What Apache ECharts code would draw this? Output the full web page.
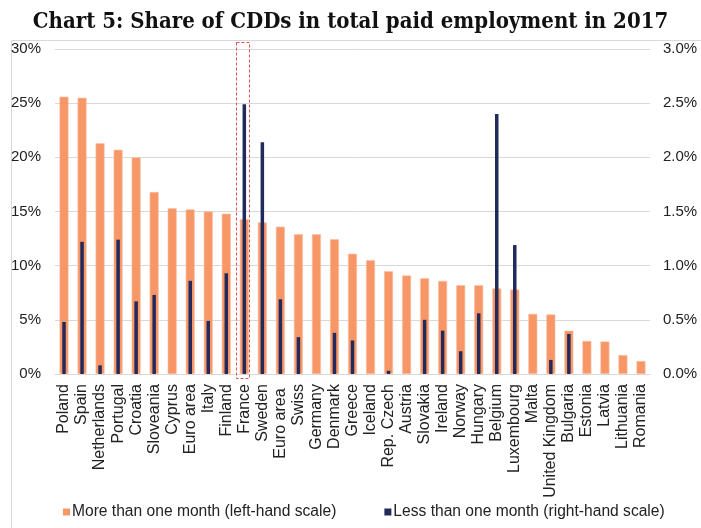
<!DOCTYPE html>
<html>
<head>
<meta charset="utf-8">
<script src="https://cdn.jsdelivr.net/npm/echarts@6/dist/echarts.min.js"></script>
<style>html,body{margin:0;padding:0;background:#fff;}#c{width:701px;height:528px;}</style>
</head>
<body>
<div id="c"></div>
<script>
const categories = ['Poland','Spain','Netherlands','Portugal','Croatia','Sloveania','Cyprus','Euro area','Italy','Finland','France','Sweden','Euro area ','Swiss','Germany','Denmark','Greece','Iceland','Rep. Czech','Austria','Slovakia','Ireland','Norway','Hungary','Belgium','Luxembourg','Malta','United Kingdom','Bulgaria','Estonia','Latvia','Lithuania','Romania'];
const moreThanOneMonth = [25.6,25.5,21.3,20.7,20.0,16.8,15.3,15.2,15.0,14.8,14.3,14.0,13.6,12.9,12.9,12.45,11.1,10.5,9.5,9.1,8.85,8.6,8.2,8.2,7.9,7.8,5.55,5.5,4.0,3.05,3.0,1.75,1.2];
const lessThanOneMonth = [0.48,1.22,0.08,1.24,0.67,0.73,null,0.86,0.49,0.93,2.49,2.14,0.69,0.34,null,0.38,0.31,null,0.03,null,0.50,0.40,0.21,0.56,2.40,1.19,null,0.13,0.37,null,null,null,null];
const leftTicks = [0,5,10,15,20,25,30];
const rightTicks = [0,0.5,1,1.5,2,2.5,3];
const highlightCategory = ['France'];
const seriesNames = ['More than one month (left-hand scale)','Less than one month (right-hand scale)'];
const titleText = 'Chart 5: Share of CDDs in total paid employment in 2017';

const chart = echarts.init(document.getElementById('c'), null, {renderer:'canvas'});
const font = 'Liberation Sans';
const option = {
  animation: false,
  backgroundColor: '#fff',
  title: {
    text: titleText, left: 'center', top: 6,
    textStyle: {fontFamily: 'DejaVu Serif Condensed', fontWeight: 'bold', fontSize: 22, color: '#111'}
  },
  graphic: [{
    type: 'rect', silent: true, z: -1,
    shape: {x: 11.5, y: 40.5, width: 700, height: 500},
    style: {fill: 'none', stroke: '#d9d9d9', lineWidth: 1}
  }],
  legend: {
    bottom: 3, left: 58, itemWidth: 7, itemHeight: 7, itemGap: 48, icon: 'rect',
    itemStyle: {borderWidth: 0},
    textStyle: {fontFamily: font, fontSize: 15.6, color: '#222', padding: [0,0,0,-3]},
    data: seriesNames
  },
  grid: {left: 55, right: 51, top: 49, bottom: 154, containLabel: false},
  xAxis: [
    {type: 'category', data: categories,
     axisLine: {show: true, lineStyle: {color: '#d9d9d9'}}, axisTick: {show: false},
     axisLabel: {rotate: 90, interval: 0, margin: 10, fontFamily: font, fontSize: 16, color: '#222'}},
    {type: 'category', data: categories, show: false}
  ],
  yAxis: [
    {type: 'value', min: 0, max: 30, interval: 5, position: 'left',
     axisLine: {show: false}, axisTick: {show: false},
     splitLine: {lineStyle: {color: '#d9d9d9', width: 1}},
     axisLabel: {formatter: v => v + '%', fontFamily: font, fontSize: 15, color: '#222', margin: 14}},
    {type: 'value', min: 0, max: 3, interval: 0.5, position: 'right',
     axisLine: {show: false}, axisTick: {show: false}, splitLine: {show: false},
     axisLabel: {formatter: v => v.toFixed(1) + '%', fontFamily: font, fontSize: 15, color: '#222', margin: 13}}
  ],
  series: [
    {name: seriesNames[0], type: 'bar', xAxisIndex: 0, yAxisIndex: 0, data: moreThanOneMonth,
     barWidth: 9, itemStyle: {color: '#F79666', borderColor: '#FBC3A6', borderWidth: 0.6}},
    {name: seriesNames[1], type: 'bar', xAxisIndex: 1, yAxisIndex: 1, data: lessThanOneMonth,
     barWidth: 3.5, itemStyle: {color: '#222A5C'}, z: 3},
    {type: 'custom', xAxisIndex: 0, yAxisIndex: 0, clip: false, silent: true, z: 4,
     data: highlightCategory.map(c => [c]),
     renderItem: function (params, api) {
       const top = api.coord([api.value(0), 30.65]);
       const bottom = api.coord([api.value(0), -0.38]);
       const w = api.size([1, 0])[0] * 0.72;
       return {type: 'rect',
         shape: {x: Math.round(top[0] - w / 2 - 1.5) + 0.5, y: Math.round(top[1]) + 0.5, width: Math.round(w), height: Math.round(bottom[1] - top[1])},
         style: {fill: 'none', stroke: '#D9534F', lineWidth: 1, lineDash: [3, 2]}};
     }
    }
  ]
};
chart.setOption(option);
</script>
</body>
</html>
